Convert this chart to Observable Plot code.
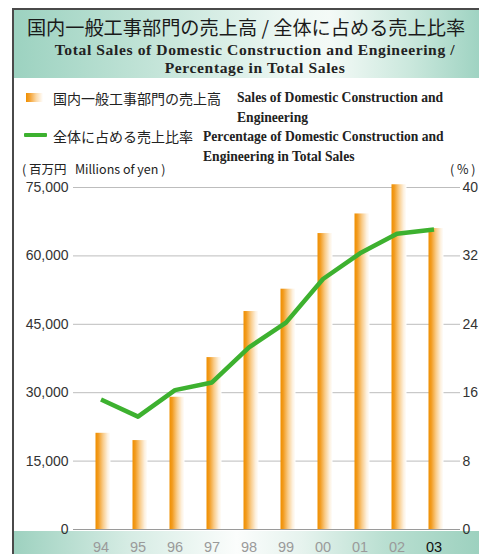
<!DOCTYPE html>
<html>
<head>
<meta charset="utf-8">
<script src="https://cdn.jsdelivr.net/npm/d3@7"></script>
<script src="https://cdn.jsdelivr.net/npm/@observablehq/plot@0.6"></script>
<style>
  html, body { margin: 0; padding: 0; background: #fff; }
  #wrap { position: relative; width: 479px; height: 554px; overflow: hidden; background: #fff; }
  .abs { position: absolute; white-space: nowrap; }
  .jp { font-family: "Noto Sans CJK JP", "Noto Sans", sans-serif; color: #222; }
  .en { font-family: "Liberation Serif", "DejaVu Serif", serif; font-weight: bold; color: #222; }
  #chart { position: absolute; left: 0; top: 170px; }
</style>
</head>
<body>
<div id="wrap">
  <div class="abs" style="left:13px;top:9px;width:466px;height:69px;background:linear-gradient(to right,#9cd2c0 0%,#c3e4d8 30%,#eef8f4 60%,#f4faf7 68%,#cbe8dd 85%,#9fd3c2 100%);"></div>
  <div class="abs" style="left:13px;top:531px;width:466px;height:23px;background:linear-gradient(to right,#9dd1bf 0%,#d6ece4 25%,#fbfdfc 48%,#e6f3ee 62%,#b9dfd1 80%,#9dd1bf 100%);"></div>
  <div class="abs" style="left:12px;top:8px;width:1.5px;height:546px;background:#4a4a4a;"></div>
  <div class="abs" style="left:12px;top:8px;width:467px;height:1.5px;background:#4a4a4a;"></div>

  <div class="abs jp" id="titleJp" style="left:13px;width:466px;top:15.5px;line-height:23px;font-size:19.2px;text-align:center;color:#1a1a1a;"></div>
  <div class="abs en" id="titleEn1" style="left:13px;width:484px;top:40.5px;line-height:18px;font-size:15.6px;letter-spacing:0.6px;text-align:center;"></div>
  <div class="abs en" id="titleEn2" style="left:13px;width:484px;top:58.5px;line-height:18px;font-size:15.6px;letter-spacing:0.6px;text-align:center;"></div>

  <div class="abs" style="left:26px;top:93px;width:17px;height:9px;background:linear-gradient(to right,#ef8f00 0%,#f5a63a 25%,#fbd9a8 60%,#ffffff 100%);"></div>
  <div class="abs jp" id="leg1jp" style="left:53px;top:89px;line-height:18px;font-size:14px;"></div>
  <div class="abs en" id="leg1en" style="left:237px;top:88px;line-height:20px;font-size:13.6px;"></div>
  <div class="abs" style="left:24px;top:133px;width:23px;height:4px;background:#3db12f;border-radius:1px;"></div>
  <div class="abs jp" id="leg2jp" style="left:53px;top:127px;line-height:18px;font-size:14px;"></div>
  <div class="abs en" id="leg2en" style="left:203px;top:127px;line-height:20px;font-size:13.6px;"></div>

  <div class="abs jp" id="unitL" style="left:22px;top:161px;line-height:16px;font-size:12.5px;"></div>
  <div class="abs jp" id="unitR" style="left:450px;top:161px;line-height:16px;font-size:12.5px;"></div>

  <div id="chart"></div>
</div>
<script>
// ---- data ----
const years = ["94", "95", "96", "97", "98", "99", "00", "01", "02", "03"];
const sales = [21100, 19500, 29000, 37700, 47800, 52700, 64900, 69200, 75600, 66000]; // millions of yen
const pct = [15.2, 13.2, 16.3, 17.2, 21.3, 24.2, 29.3, 32.3, 34.6, 35.1];               // %
const leftTicks = [0, 15000, 30000, 45000, 60000, 75000];
const rightTicks = [0, 8, 16, 24, 32, 40];
const titleJp = "国内一般工事部門の売上高 / 全体に占める売上比率";
const titleEn = ["Total Sales of Domestic Construction and Engineering /", "Percentage in Total Sales"];
const legend1 = ["国内一般工事部門の売上高", "Sales of Domestic Construction and", "Engineering"];
const legend2 = ["全体に占める売上比率", "Percentage of Domestic Construction and", "Engineering in Total Sales"];
const unitLeft = "( 百万円\u00a0\u00a0\u00a0Millions of yen )";
const unitRight = "( % )";

document.getElementById("titleJp").textContent = titleJp;
document.getElementById("titleEn1").textContent = titleEn[0];
document.getElementById("titleEn2").textContent = titleEn[1];
document.getElementById("leg1jp").textContent = legend1[0];
document.getElementById("leg1en").innerHTML = legend1[1] + "<br>" + legend1[2];
document.getElementById("leg2jp").textContent = legend2[0];
document.getElementById("leg2en").innerHTML = legend2[1] + "<br>" + legend2[2];
document.getElementById("unitL").textContent = unitLeft;
document.getElementById("unitR").textContent = unitRight;

const yMax = 75000, pMax = 40, k = yMax / pMax;
const table = years.map((y, i) => ({year: y, sales: sales[i], pct: pct[i]}));

const plot = Plot.plot({
  width: 479,
  height: 384,
  marginLeft: 73,
  marginRight: 19,
  marginTop: 17,
  marginBottom: 25,
  style: {background: "transparent", fontFamily: "'Liberation Sans', Arial, sans-serif", fontSize: "14px", color: "#333", overflow: "visible"},
  x: {type: "band", domain: years, paddingInner: 0.6, paddingOuter: 0.486, label: null},
  y: {domain: [0, yMax], label: null},
  marks: [
    Plot.ruleY(leftTicks.slice(1), {stroke: "#bdbdbd", strokeWidth: 1}),
    Plot.barY(table, {x: "year", y: "sales", fill: "url(#barGrad)", dx: 2.5}),
    Plot.ruleY([0], {stroke: "#9a9a9a", strokeWidth: 1.2}),
    Plot.line(table, {x: "year", y: d => d.pct * k, stroke: "#3db12f", strokeWidth: 4.5, strokeLinejoin: "round", strokeLinecap: "butt"}),
    Plot.axisY({anchor: "left", ticks: leftTicks, tickFormat: d3.format(","), tickSize: 0, tickPadding: 5, label: null, fill: "#333"}),
    Plot.axisY({anchor: "right", ticks: rightTicks.map(v => v * k), tickFormat: d => String(Math.round(d / k)), tickSize: 0, tickPadding: 2, label: null, fill: "#333"}),
    Plot.axisX({anchor: "bottom", ticks: years.slice(0, -1), tickSize: 0, tickPadding: 12, label: null, fill: "#9a9a9a", fontSize: 14.5}),
    Plot.axisX({anchor: "bottom", ticks: years.slice(-1), tickSize: 0, tickPadding: 12, label: null, fill: "#111", fontSize: 14.5})
  ]
});

const NS = "http://www.w3.org/2000/svg";
const defs = document.createElementNS(NS, "defs");
const grad = document.createElementNS(NS, "linearGradient");
grad.setAttribute("id", "barGrad");
grad.setAttribute("x1", "0"); grad.setAttribute("x2", "1");
grad.setAttribute("y1", "0"); grad.setAttribute("y2", "0");
[[0, "#ef8f00"], [0.18, "#f29b1e"], [0.5, "#f9cc8a"], [0.8, "#fdf0dd"], [1, "#ffffff"]].forEach(([o, c]) => {
  const s = document.createElementNS(NS, "stop");
  s.setAttribute("offset", o);
  s.setAttribute("stop-color", c);
  grad.appendChild(s);
});
defs.appendChild(grad);
plot.insertBefore(defs, plot.firstChild);
document.getElementById("chart").appendChild(plot);
</script>
</body>
</html>
